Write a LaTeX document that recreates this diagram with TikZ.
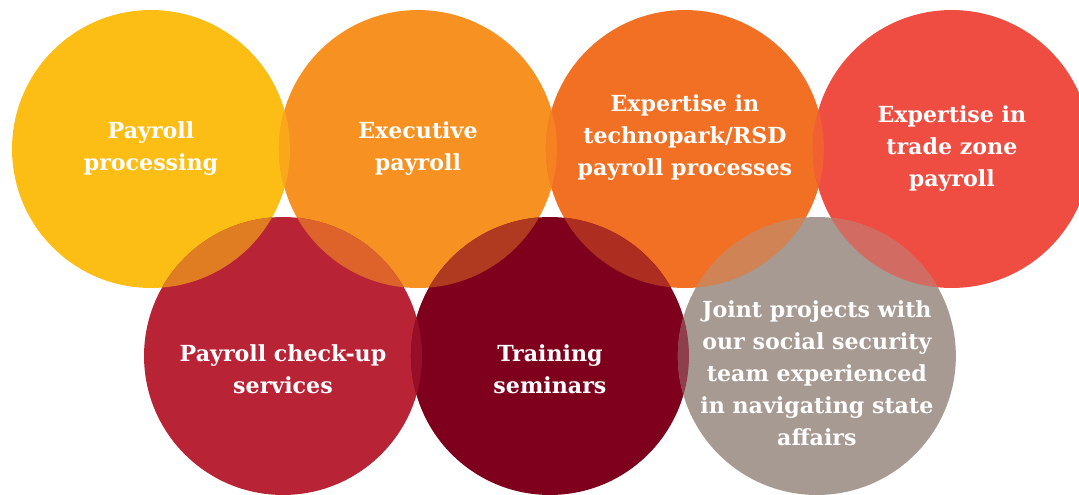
\documentclass[tikz,border=0pt]{standalone}
\usepackage{fontspec}
\setmainfont{DejaVu Serif}
\usetikzlibrary{positioning}
\usepackage{xcolor}

\definecolor{proc}{RGB}{252,190,20}
\definecolor{exec}{RGB}{247,146,34}
\definecolor{tech}{RGB}{242,112,36}
\definecolor{trade}{RGB}{240,77,66}
\definecolor{check}{RGB}{185,35,54}
\definecolor{train}{RGB}{127,0,29}
\definecolor{joint}{RGB}{166,154,146}

\begin{document}
\begin{tikzpicture}[%
        x=0.02cm, y=-0.02cm,
        disc/.style={circle, minimum size=5.56cm, inner sep=0pt, outer sep=0pt},
        txt/.style={align=center, text=white, font=\bfseries\fontsize{12.6pt}{18.2pt}\selectfont},
        node distance=-0.22cm
      ]
      \clip (0,0) rectangle (1079,494);
      \node [disc, fill=proc] (proc) at (151,149) {};
      \node [disc, fill=exec, right=of proc] (exec) {};
      \node [disc, fill=tech, right=of exec] (tech) {};
      \node [disc, fill=trade, right=of tech] (trade) {};
      \node [disc, fill=check] (check) at (283,356) {};
      \node [disc, fill=train, right=of check] (train) {};
      \node [disc, fill=joint, right=of train] (joint) {};
      % overlaps
      \foreach \a/\b/\p in {proc/exec/50, exec/tech/50, tech/trade/50,
                            check/train/40, train/joint/60,
                            proc/check/58, exec/check/58, exec/train/40,
                            tech/train/40, tech/joint/55, trade/joint/60}{
        \begin{scope}
          \clip (\a.center) circle[radius=139];
          \fill [\a!\p!\b] (\b.center) circle[radius=139];
        \end{scope}
      }
      \node [txt] (procT) at (proc) {Payroll\\processing};
      \node [txt] (execT) at (exec) {Executive\\payroll};
      \node [txt] (techT) at ([yshift=0.22cm]tech) {Expertise in\\technopark/RSD\\payroll processes};
      \node [txt] (tradeT) at (trade) {Expertise in\\trade zone\\payroll};
      \node [txt] (checkT) at ([yshift=-0.26cm]check) {Payroll check-up\\services};
      \node [txt] (trainT) at ([yshift=-0.26cm]train) {Training\\seminars};
      \node [txt] (jointT) at ([yshift=-0.34cm]joint) {Joint projects with\\our social security\\team experienced\\in navigating state\\affairs};
    \end{tikzpicture}
\end{document}
